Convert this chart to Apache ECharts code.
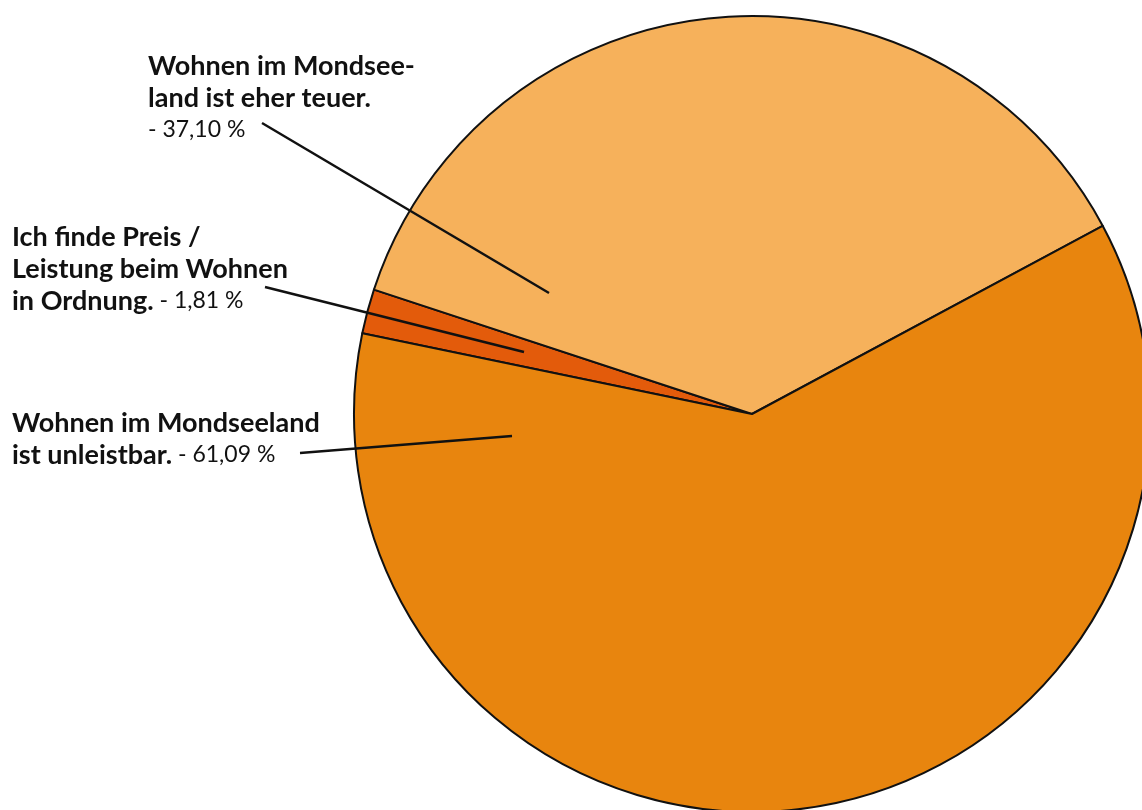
<!DOCTYPE html>
<html><head><meta charset="utf-8">
<script src="https://cdn.jsdelivr.net/npm/echarts@6/dist/echarts.min.js"></script>
<style>html,body{margin:0;padding:0;background:#fff}#c{width:1142px;height:810px}</style>
</head><body><div id="c"></div>
<script>
var categories = [
  "Ich finde Preis /\nLeistung beim Wohnen\nin Ordnung.",
  "Wohnen im Mondsee-\nland ist eher teuer.",
  "Wohnen im Mondseeland\nist unleistbar."
];
var values = [1.81, 37.10, 61.09];
var pctLabels = ["- 1,81 %", "- 37,10 %", "- 61,09 %"];
var colors = ["#E35B0B", "#F6B15B", "#E8850E"];
var pctOnNewLine = [false, true, false];

// label layout (positions only)
var labelPos = [
  {x: 12, y: 221, line: [[265, 287], [265, 287], [524, 352]]},
  {x: 148, y: 50, line: [[262, 123], [262, 123], [549, 293]]},
  {x: 12, y: 407, line: [[300, 453], [300, 453], [512, 436]]}
];

var commonPie = {
  type: 'pie',
  center: [752, 414],
  radius: 398,
  startAngle: 168.3,
  clockwise: true,
  animation: false,
  emphasis: {disabled: true},
  silent: true
};

var chart = echarts.init(document.getElementById('c'), null, {renderer: 'canvas'});
chart.setOption({
  animation: false,
  series: [
    Object.assign({}, commonPie, {
      z: 1,
      data: values.map(function (v, i) {
        return {value: v, name: categories[i], itemStyle: {color: colors[i]}};
      }),
      itemStyle: {borderColor: '#111', borderWidth: 2},
      label: {show: false},
      labelLine: {show: false}
    }),
    Object.assign({}, commonPie, {
      z: 5,
      data: values.map(function (v, i) {
        return {value: v, name: categories[i]};
      }),
      itemStyle: {color: 'rgba(0,0,0,0)', borderWidth: 0},
      label: {
        show: true,
        position: 'outside',
        alignTo: 'none',
        overflow: 'none',
        width: 400,
        formatter: function (p) {
          var i = p.dataIndex;
          var lines = categories[i].split('\n').map(function (l) { return '{b|' + l + '}'; });
          if (pctOnNewLine[i]) {
            return lines.join('\n') + '\n{n|' + pctLabels[i] + '}';
          }
          lines[lines.length - 1] += '{n| ' + pctLabels[i] + '}';
          return lines.join('\n');
        },
        rich: {
          b: {fontFamily: 'Lato', fontWeight: 'bold', fontSize: 27, color: '#111', lineHeight: 32},
          n: {fontFamily: 'Lato', fontWeight: 'normal', fontSize: 23, color: '#111', lineHeight: 32}
        }
      },
      labelLine: {show: true, lineStyle: {color: '#111', width: 2.5}},
      labelLayout: function (params) {
        var lp = labelPos[params.dataIndex];
        return {x: lp.x, y: lp.y, align: 'left', verticalAlign: 'top', labelLinePoints: lp.line};
      }
    })
  ]
});
</script></body></html>
